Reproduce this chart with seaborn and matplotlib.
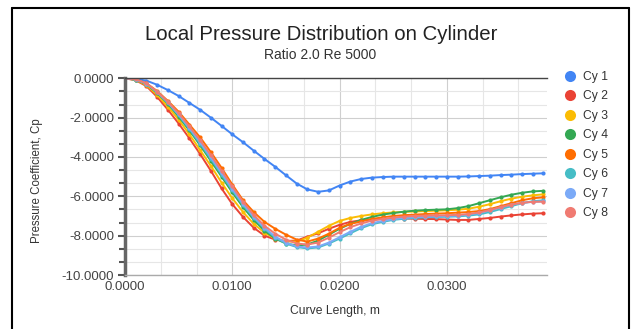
import numpy as np
import pandas as pd
import matplotlib
matplotlib.use("Agg")
import matplotlib.pyplot as plt
import seaborn as sns
from matplotlib.lines import Line2D
from matplotlib.ticker import MultipleLocator, FormatStrFormatter

# ---- data ----
curve_length = [0.000, 0.001, 0.002, 0.003, 0.004, 0.005, 0.006, 0.007, 0.008, 0.009,
                0.010, 0.011, 0.012, 0.013, 0.014, 0.015, 0.016, 0.017, 0.018, 0.019,
                0.020, 0.021, 0.022, 0.023, 0.024, 0.025, 0.026, 0.027, 0.028, 0.029,
                0.030, 0.031, 0.032, 0.033, 0.034, 0.035, 0.036, 0.037, 0.038, 0.039]

cy1 = [0.00, -0.03, -0.12, -0.33, -0.60, -0.90, -1.25, -1.60, -2.00, -2.42,
       -2.85, -3.25, -3.68, -4.10, -4.50, -4.93, -5.35, -5.65, -5.77, -5.70,
       -5.45, -5.25, -5.12, -5.05, -5.02, -5.00, -5.00, -5.00, -5.00, -5.00,
       -5.00, -5.00, -4.99, -4.97, -4.95, -4.92, -4.90, -4.87, -4.85, -4.83]
cy2 = [0.00, -0.10, -0.40, -0.95, -1.60, -2.30, -3.05, -3.85, -4.70, -5.60,
       -6.40, -7.05, -7.60, -8.00, -8.20, -8.27, -8.25, -8.05, -7.88, -7.65,
       -7.45, -7.30, -7.22, -7.18, -7.15, -7.13, -7.13, -7.14, -7.15, -7.16,
       -7.18, -7.20, -7.20, -7.15, -7.10, -7.03, -6.97, -6.92, -6.88, -6.86]
cy3 = [0.00, -0.08, -0.35, -0.85, -1.45, -2.10, -2.85, -3.65, -4.45, -5.30,
       -6.10, -6.80, -7.40, -7.85, -8.15, -8.30, -8.30, -8.10, -7.80, -7.50,
       -7.25, -7.10, -7.00, -6.92, -6.86, -6.82, -6.79, -6.77, -6.75, -6.73,
       -6.71, -6.68, -6.63, -6.53, -6.40, -6.25, -6.12, -6.02, -5.95, -5.90]
cy4 = [0.00, -0.07, -0.30, -0.75, -1.30, -1.95, -2.65, -3.40, -4.20, -5.00,
       -5.80, -6.55, -7.20, -7.75, -8.15, -8.40, -8.50, -8.45, -8.25, -7.95,
       -7.65, -7.40, -7.20, -7.05, -6.93, -6.85, -6.78, -6.73, -6.70, -6.68,
       -6.66, -6.60, -6.50, -6.35, -6.20, -6.05, -5.92, -5.82, -5.75, -5.72]
cy5 = [0.00, -0.05, -0.25, -0.65, -1.15, -1.70, -2.35, -3.00, -3.75, -4.55,
       -5.40, -6.20, -6.80, -7.30, -7.65, -7.95, -8.20, -8.30, -8.15, -7.90,
       -7.60, -7.40, -7.28, -7.15, -7.07, -7.00, -6.96, -6.93, -6.90, -6.88,
       -6.86, -6.83, -6.80, -6.75, -6.65, -6.50, -6.35, -6.20, -6.10, -6.05]
cy6 = [0.00, -0.07, -0.28, -0.72, -1.25, -1.88, -2.58, -3.32, -4.10, -4.90,
       -5.70, -6.45, -7.10, -7.65, -8.10, -8.40, -8.58, -8.65, -8.60, -8.40,
       -8.15, -7.88, -7.62, -7.42, -7.30, -7.20, -7.14, -7.10, -7.07, -7.05,
       -7.04, -7.02, -6.98, -6.92, -6.80, -6.65, -6.50, -6.35, -6.25, -6.20]
cy7 = [0.00, -0.06, -0.27, -0.70, -1.22, -1.84, -2.52, -3.25, -4.02, -4.82,
       -5.62, -6.38, -7.05, -7.60, -8.05, -8.35, -8.55, -8.60, -8.55, -8.35,
       -8.08, -7.80, -7.55, -7.37, -7.25, -7.16, -7.10, -7.06, -7.04, -7.02,
       -7.00, -6.98, -6.93, -6.85, -6.72, -6.57, -6.43, -6.33, -6.28, -6.26]
cy8 = [0.00, -0.05, -0.26, -0.68, -1.20, -1.78, -2.45, -3.15, -3.90, -4.70,
       -5.50, -6.28, -6.95, -7.50, -7.90, -8.20, -8.40, -8.45, -8.35, -8.10,
       -7.82, -7.57, -7.38, -7.24, -7.15, -7.08, -7.03, -7.00, -6.98, -6.97,
       -6.96, -6.94, -6.90, -6.82, -6.70, -6.55, -6.42, -6.33, -6.28, -6.27]

series_names = ["Cy 1", "Cy 2", "Cy 3", "Cy 4", "Cy 5", "Cy 6", "Cy 7", "Cy 8"]
series_values = [cy1, cy2, cy3, cy4, cy5, cy6, cy7, cy8]
colors = ["#4285F4", "#EA4335", "#FBBC04", "#34A853",
          "#FF6D01", "#46BDC6", "#7BAAF7", "#F07B72"]

title = "Local Pressure Distribution on Cylinder"
subtitle = "Ratio 2.0 Re 5000"
x_label = "Curve Length, m"
y_label = "Pressure Coefficient, Cp"

# ---- long-format table ----
rows = []
for name, vals in zip(series_names, series_values):
    for xv, yv in zip(curve_length, vals):
        rows.append({"x": xv, "cp": yv, "series": name})
df = pd.DataFrame(rows)

sns.set_theme(style="white")
plt.rcParams['font.family'] = ['Liberation Sans', 'DejaVu Sans']

fig = plt.figure(figsize=(6.37, 3.29), dpi=100)
ax = fig.add_axes([125 / 637, 1 - 275 / 329, (546.7 - 125) / 637, (275 - 78.3) / 329])

sns.lineplot(data=df, x="x", y="cp", hue="series", hue_order=series_names,
             palette=colors, marker="o", markersize=3, markeredgewidth=0,
             linewidth=1.4, ax=ax, legend=False, sort=False)

ax.set_xlim(0, 0.0393)
ax.set_ylim(-10, 0)
ax.xaxis.set_major_locator(MultipleLocator(0.01))
ax.xaxis.set_minor_locator(MultipleLocator(0.01 / 3))
ax.yaxis.set_major_locator(MultipleLocator(2))
ax.yaxis.set_minor_locator(MultipleLocator(2 / 3))
ax.xaxis.set_major_formatter(FormatStrFormatter('%.4f'))
ax.yaxis.set_major_formatter(FormatStrFormatter('%.4f'))
ax.grid(which='major', color='#cfcfcf', lw=0.8)
ax.grid(which='minor', color='#e6e6e6', lw=0.8)
ax.set_axisbelow(True)

ax.spines['right'].set_visible(False)
ax.spines['top'].set_color('#444444')
ax.spines['top'].set_linewidth(1.0)
ax.spines['bottom'].set_color('#aaaaaa')
ax.spines['bottom'].set_linewidth(1.0)
ax.spines['left'].set_color('#666666')
ax.spines['left'].set_linewidth(2.5)

ax.tick_params(axis='x', which='both', length=0, labelsize=9.5, labelcolor='#444444', pad=4)
ax.tick_params(axis='y', which='major', length=5, width=1.5, color='#555555',
               labelsize=9.5, labelcolor='#444444', pad=3, left=True)
ax.tick_params(axis='y', which='minor', length=4, width=1.5, color='#555555', left=True)
ax.set_xlabel("")
ax.set_ylabel("")

fig.text(0.505, 1 - 34 / 329, title, ha='center', va='center', fontsize=14.7, color='#222222')
fig.text(0.503, 1 - 55 / 329, subtitle, ha='center', va='center', fontsize=10, color='#333333')
fig.text(37 / 637, 1 - 181 / 329, y_label, ha='center', va='center', rotation=90,
         fontsize=8.3, color='#333333')
fig.text(335 / 637, 1 - 311 / 329, x_label, ha='center', va='center', fontsize=8.7, color='#333333')

handles = [Line2D([0], [0], marker='o', linestyle='', markersize=8,
                  markerfacecolor=c, markeredgewidth=0) for c in colors]
fig.legend(handles, series_names, loc='upper left', bbox_to_anchor=(564 / 637, 1 - 71 / 329),
           frameon=False, handlelength=1.0, handletextpad=0.55, borderaxespad=0,
           borderpad=0, labelspacing=0.62, fontsize=8.7, labelcolor='#333333')

# outer frame
for xs, ys in [([12 / 637, 12 / 637], [0, 1 - 8 / 329]),
               ([629 / 637, 629 / 637], [0, 1 - 8 / 329]),
               ([12 / 637, 629 / 637], [1 - 8 / 329, 1 - 8 / 329])]:
    fig.add_artist(Line2D(xs, ys, color='black', lw=1.5, transform=fig.transFigure))

fig.savefig("out.png", dpi=100)
